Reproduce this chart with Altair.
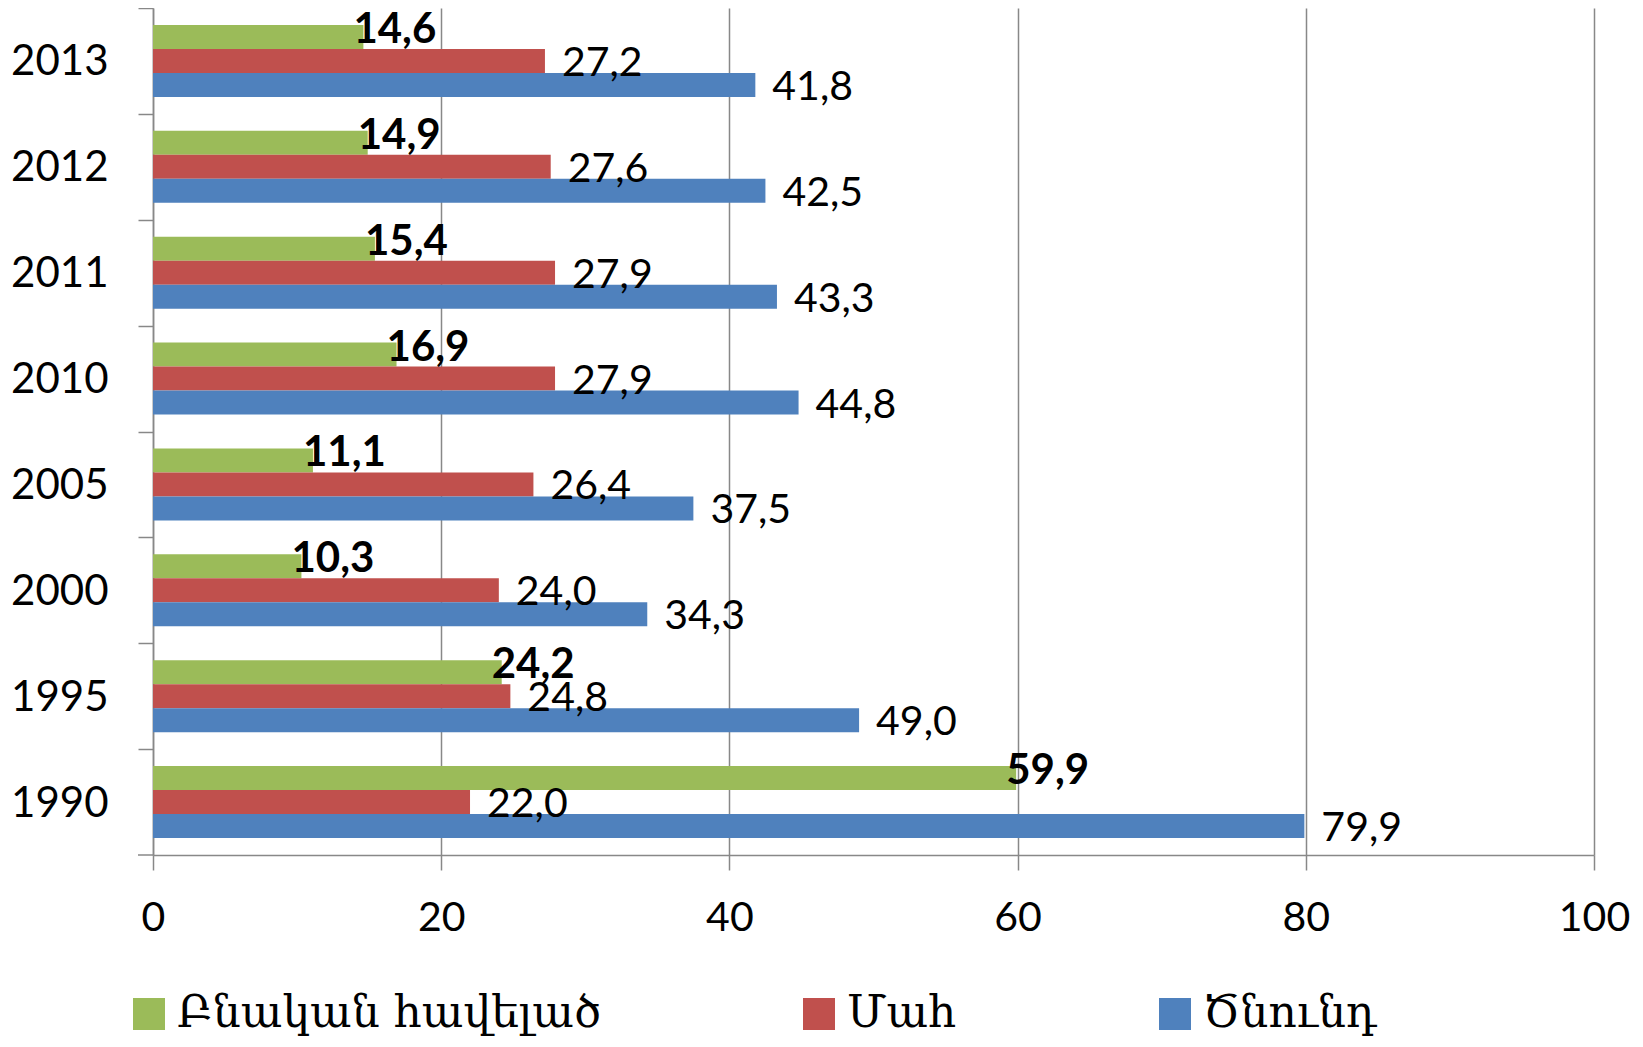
import altair as alt
import pandas as pd

years = ["2013", "2012", "2011", "2010", "2005", "2000", "1995", "1990"]
births = [41.8, 42.5, 43.3, 44.8, 37.5, 34.3, 49.0, 79.9]
deaths = [27.2, 27.6, 27.9, 27.9, 26.4, 24.0, 24.8, 22.0]
natural = [14.6, 14.9, 15.4, 16.9, 11.1, 10.3, 24.2, 59.9]

series_names = ["Բնական հավելած", "Մահ", "Ծնունդ"]
series_colors = ["#9BBB59", "#C0504D", "#4F81BD"]

rows = []
for i, y in enumerate(years):
    rows.append({"year": y, "series": series_names[0], "value": natural[i]})
    rows.append({"year": y, "series": series_names[1], "value": deaths[i]})
    rows.append({"year": y, "series": series_names[2], "value": births[i]})
df = pd.DataFrame(rows)

FONT = "Lato"
GRAY = "#888888"
H = 847
STEP = H / 8.0
PAD_IN = 0.32
PAD_OUT = 0.16

x_enc = alt.X(
    "value:Q",
    scale=alt.Scale(domain=[0, 100], nice=False),
    axis=alt.Axis(
        values=[0, 20, 40, 60, 80, 100],
        title=None,
        grid=True,
        gridColor=GRAY,
        gridWidth=1.5,
        domainColor=GRAY,
        domainWidth=1.5,
        tickColor=GRAY,
        tickWidth=1.5,
        tickSize=15,
        labelFont=FONT,
        labelFontSize=41,
        labelColor="black",
        labelPadding=28,
        labelFlush=False,
    ),
)
y_enc = alt.Y(
    "year:N",
    sort=years,
    scale=alt.Scale(paddingInner=PAD_IN, paddingOuter=PAD_OUT),
    axis=alt.Axis(
        title=None,
        grid=False,
        bandPosition=0,
        tickOffset=-(STEP * PAD_OUT),
        domainColor=GRAY,
        domainWidth=1.5,
        tickColor=GRAY,
        tickWidth=1.5,
        tickSize=15,
        labelFont=FONT,
        labelFontSize=42,
        labelColor="black",
        labelPadding=30,
        labelOffset=18,
    ),
)
yoff = alt.YOffset("series:N", sort=series_names, scale=alt.Scale(paddingInner=0, paddingOuter=0))

base = alt.Chart(df)

bars = base.mark_bar(height={"band": 1}).encode(
    x=x_enc,
    y=y_enc,
    yOffset=yoff,
    color=alt.Color(
        "series:N",
        scale=alt.Scale(domain=series_names, range=series_colors),
        legend=alt.Legend(
            title=None,
            orient="none",
            legendX=-26,
            legendY=984,
            direction="horizontal",
            symbolType="square",
            symbolSize=1024,
            symbolStrokeWidth=0,
            labelFont="DejaVu Serif",
            labelFontSize=44,
            labelColor="black",
            labelOffset=6,
            columnPadding=196,
            labelLimit=1000,
        ),
    ),
)

# bottom tick of the category axis (closing the last band)
bottom_tick = alt.Chart(pd.DataFrame({"a": [0]})).mark_rule(color=GRAY, strokeWidth=1.5).encode(
    x=alt.value(-15), x2=alt.value(0), y=alt.value(H)
)

fmt = "replace(format(datum.value, '.1f'), '.', ',')"

lab_green = base.transform_filter(
    alt.datum.series == series_names[0]
).transform_calculate(lbl=fmt).mark_text(
    align="left", baseline="middle", dx=-10, dy=-7, font=FONT, fontSize=42, fontWeight="bold", color="black"
).encode(x="value:Q", y=alt.Y("year:N", sort=years), yOffset=yoff, text="lbl:N")

lab_other = base.transform_filter(
    alt.datum.series != series_names[0]
).transform_calculate(lbl=fmt).mark_text(
    align="left", baseline="middle", dx=17, dy=3, font=FONT, fontSize=41, color="black"
).encode(x="value:Q", y=alt.Y("year:N", sort=years), yOffset=yoff, text="lbl:N")

chart = alt.layer(bars, bottom_tick, lab_other, lab_green).properties(
    width=1441,
    height=H,
    autosize="none",
    padding={"left": 145, "top": 0, "right": 40, "bottom": 182},
).configure_view(stroke=None)

chart.save("out.html", embed_options={"renderer": "svg", "actions": False})
